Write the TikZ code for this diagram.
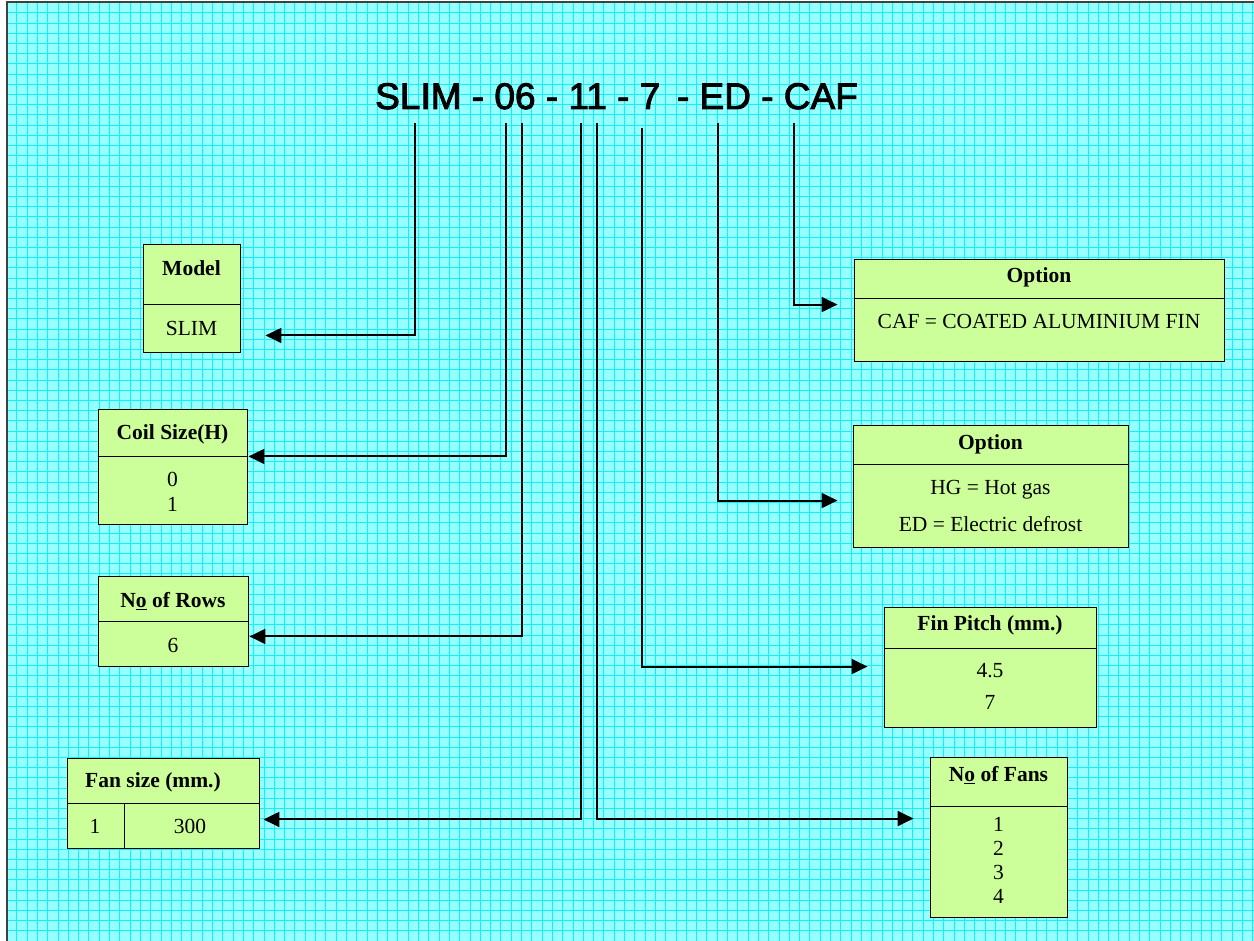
\documentclass[tikz,border=0pt]{standalone}
\usepackage{fontspec}
\setmainfont{Liberation Serif}
\newfontfamily\titlefont[FakeBold=2.5]{Liberation Sans}
\usetikzlibrary{arrows.meta,positioning}
\definecolor{sheetcyan}{RGB}{150,255,255}
\definecolor{gridcyan}{RGB}{20,240,250}
\definecolor{boxgreen}{RGB}{204,255,153}

\begin{document}
\begin{tikzpicture}[
  x=1pt,y=-1pt,
  codebox/.style={draw=black,line width=0.9pt,fill=boxgreen,inner sep=0pt},
  hdtext/.style={font=\fontsize{21.5}{24}\selectfont\bfseries,inner sep=0pt},
  bdtext/.style={font=\fontsize{21.5}{24}\selectfont,inner sep=0pt,align=center},
  gridline/.style={gridcyan,line width=0.7pt},
  ar/.style={-{Triangle[length=16pt,width=15pt]},line width=2pt,black}
]
\useasboundingbox (0,0) rectangle (1254,941);
% sheet with grid
\fill[white] (0,0) rectangle (1254,941);
\fill[sheetcyan] (7,2) rectangle (1254,941);
\begin{scope}
  \clip (7,2) rectangle (1254,941);
  \foreach \gx in {0,...,121}
    \draw[gridline] ({6.4+10.3*\gx},2) -- ({6.4+10.3*\gx},941);
  \foreach \gy in {0,...,92}
    \draw[gridline] (7,{2.5+10.2*\gy}) -- (1254,{2.5+10.2*\gy});
\end{scope}
\draw[black!75,line width=2.5pt] (7,941) -- (7,2) -- (1254,2);

% TOP: model code
\node[anchor=base west,inner sep=0pt,font=\titlefont\fontsize{37}{40}\selectfont] (code) at (375,109)
  {SLIM - 06 - 11 - 7\hspace{0.45em}- ED - CAF};
\coordinate (cSlim) at (415,123);
\coordinate (cCoil) at (506,123);
\coordinate (cRows) at (522,123);
\coordinate (cFan)  at (581,123);
\coordinate (cFans) at (597,123);
\coordinate (cPitch) at (642,128);
\coordinate (cHG)  at (718,123);
\coordinate (cCAF) at (794,123);

% LEFT: model, coil, rows, fan size
\node[codebox,minimum width=97pt,minimum height=108pt] (mdl) at (191.5,298) {};
\draw[line width=0.9pt] (mdl.west |- 0,304) -- (mdl.east |- 0,304);
\node[hdtext] at (191.5,268) {Model};
\node[bdtext] at (191.5,328) {SLIM};

\node[codebox,minimum width=149pt,minimum height=115pt] (coil) at (172.5,466.5) {};
\draw[line width=0.9pt] (coil.west |- 0,456) -- (coil.east |- 0,456);
\node[hdtext] at (172.5,434) {Coil Size(H)};
\node[bdtext] at (172.5,479) {0};
\node[bdtext] at (172.5,504) {1};

\node[codebox,minimum width=150pt,minimum height=90pt] (rows) at (173,621) {};
\draw[line width=0.9pt] (rows.west |- 0,621) -- (rows.east |- 0,621);
\node[hdtext] at (173,601) {N\underline{o} of Rows};
\node[bdtext] at (173,645) {6};

\node[codebox,minimum width=192pt,minimum height=90pt] (fan) at (163,803) {};
\draw[line width=0.9pt] (fan.west |- 0,803) -- (fan.east |- 0,803);
\draw[line width=0.9pt] (124,803) -- (fan.south -| 124,0);
\node[hdtext] at (153,782) {Fan size (mm.)};
\node[bdtext] at (95,826) {1};
\node[bdtext] at (190,826) {300};

% RIGHT: options, fin pitch, fans
\node[codebox,minimum width=370pt,minimum height=102pt] (caf) at (1039,310) {};
\draw[line width=0.9pt] (caf.west |- 0,298) -- (caf.east |- 0,298);
\node[hdtext] at (1039,277) {Option};
\node[bdtext] at (1039,321) {CAF = COATED ALUMINIUM FIN};

\node[codebox,minimum width=275pt,minimum height=122pt] (hg) at (990.5,486) {};
\draw[line width=0.9pt] (hg.west |- 0,464) -- (hg.east |- 0,464);
\node[hdtext] at (990.5,444) {Option};
\node[bdtext] at (990.5,490) {HG = Hot gas};
\node[bdtext] at (990.5,524) {ED = Electric defrost};

\node[codebox,minimum width=212pt,minimum height=120pt] (pitch) at (990,667) {};
\draw[line width=0.9pt] (pitch.west |- 0,648) -- (pitch.east |- 0,648);
\node[hdtext] at (990,625) {Fin Pitch (mm.)};
\node[bdtext] at (990,671) {4.5};
\node[bdtext] at (990,702) {7};

\node[codebox,minimum width=137pt,minimum height=160pt] (fans) at (998.5,837) {};
\draw[line width=0.9pt] (fans.west |- 0,806) -- (fans.east |- 0,806);
\node[hdtext] at (998.5,775) {N\underline{o} of Fans};
\node[bdtext] at (998.5,824) {1};
\node[bdtext] at (998.5,848) {2};
\node[bdtext] at (998.5,872) {3};
\node[bdtext] at (998.5,896) {4};

% connectors
\draw[ar] (cSlim) |- ([xshift=25pt,yshift=17pt]mdl.south east);
\draw[ar] (cCoil) |- ([xshift=1pt,yshift=68pt]coil.south east);
\draw[ar] (cRows) |- ([xshift=1pt,yshift=30pt]rows.south east);
\draw[ar] (cFan) |- ([xshift=4pt,yshift=29pt]fan.south east);
\draw[ar] (cFans) |- ([xshift=-16pt,yshift=-62pt]fans.north west);
\draw[ar] (cPitch) |- ([xshift=-16pt,yshift=-60pt]pitch.north west);
\draw[ar] (cHG) |- ([xshift=-15pt,yshift=-76pt]hg.north west);
\draw[ar] (cCAF) |- ([xshift=-16pt,yshift=-46pt]caf.north west);
\end{tikzpicture}
\end{document}
